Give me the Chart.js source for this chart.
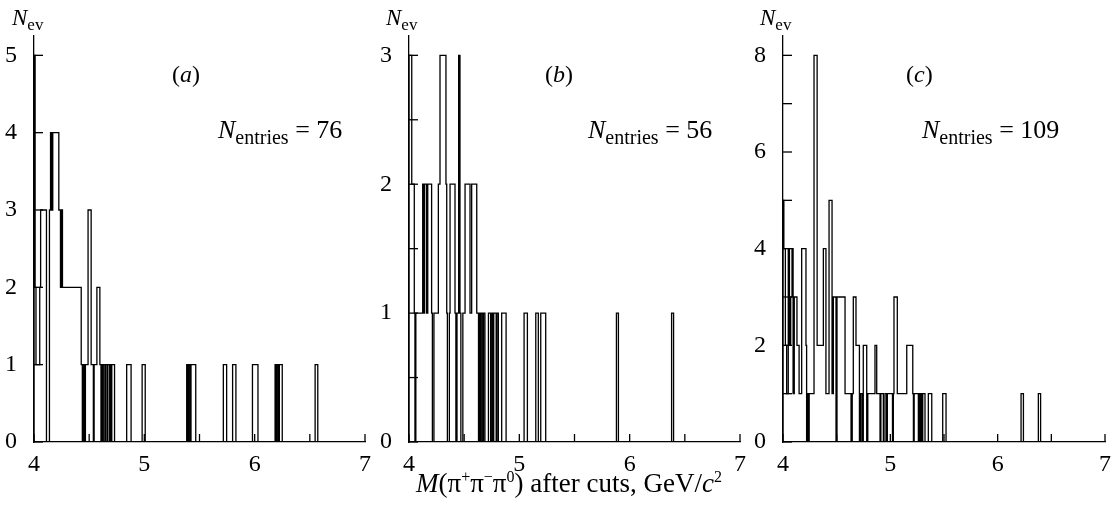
<html>
<head>
<meta charset="UTF-8">
<script src="https://cdn.jsdelivr.net/npm/chart.js"></script>
<style>
  body { margin: 0; width: 1115px; height: 511px; background: #fff; position: relative; overflow: hidden;
         font-family: 'Liberation Serif', 'Times New Roman', serif; color: #000; }
  canvas { position: absolute; left: 0; top: 0; }
  .t { position: absolute; line-height: 1; white-space: nowrap; font-size: 24px; }
  .t sub { font-size: 17px; vertical-align: -5px; line-height: 0; }
  .t sup { font-size: 16px; vertical-align: 10px; line-height: 0; }
  .ent { font-size: 26px; }
  .ent sub { font-size: 20px; vertical-align: -6px; }
</style>
</head>
<body>
<canvas id="pa" width="1115" height="511"></canvas>
<canvas id="pb" width="1115" height="511"></canvas>
<canvas id="pc" width="1115" height="511"></canvas>

<div class="t" style="left:12px; top:6px; font-size:23px"><i>N</i><sub>ev</sub></div>
<div class="t" style="left:386px; top:6px; font-size:23px"><i>N</i><sub>ev</sub></div>
<div class="t" style="left:760px; top:6px; font-size:23px"><i>N</i><sub>ev</sub></div>

<div class="t" style="left:172px; top:62px">(<i>a</i>)</div>
<div class="t" style="left:545px; top:62px">(<i>b</i>)</div>
<div class="t" style="left:906px; top:62px">(<i>c</i>)</div>

<div class="t ent" id="entA" style="left:218px; top:117px"></div>
<div class="t ent" id="entB" style="left:588px; top:117px"></div>
<div class="t ent" id="entC" style="left:922px; top:117px"></div>

<div class="t" style="left:416px; top:470px; font-size:27px"><i>M</i>(π<sup>+</sup>π<sup>−</sup>π<sup>0</sup>) after cuts, GeV/<i>c</i><sup>2</sup></div>

<script>
// step histograms: level n holds from mass[i] up to mass[i+1]
const massA = [4.000, 4.000, 4.010, 4.018, 4.052, 4.060, 4.113, 4.140, 4.150, 4.160, 4.170, 4.225, 4.240, 4.248, 4.258,
               4.428, 4.438, 4.446, 4.458, 4.466, 4.490, 4.518, 4.538, 4.545, 4.570, 4.597, 4.607, 4.613, 4.621, 4.628,
               4.642, 4.648, 4.662, 4.670, 4.686, 4.694, 4.702, 4.705, 4.730, 4.840, 4.880, 4.980, 5.008,
               5.384, 5.394, 5.400, 5.412, 5.423, 5.466, 5.716, 5.746, 5.800, 5.830, 5.980, 6.030,
               6.185, 6.196, 6.203, 6.215, 6.224, 6.250, 6.548, 6.572];
const countA = [0, 5, 2, 1, 2, 3, 0, 3, 4, 3, 4, 3, 2, 3, 2,
                1, 0, 1, 0, 1, 3, 1, 0, 1, 2, 1, 0, 1, 0, 1,
                0, 1, 0, 1, 0, 1, 0, 1, 0, 1, 0, 1, 0,
                1, 0, 1, 0, 1, 0, 1, 0, 1, 0, 1, 0,
                1, 0, 1, 0, 1, 0, 1, 0];

const massB = [4.000, 4.000, 4.025, 4.048, 4.054, 4.062, 4.124, 4.134, 4.140, 4.158, 4.170, 4.205, 4.212, 4.226,
               4.266, 4.281, 4.335, 4.342, 4.348, 4.366, 4.372, 4.417, 4.425, 4.435, 4.450, 4.462, 4.470, 4.488,
               4.508, 4.553, 4.568, 4.614, 4.630, 4.637, 4.648, 4.655, 4.668, 4.675, 4.688, 4.720, 4.740, 4.752,
               4.762, 4.768, 4.790, 4.797, 4.810, 4.840, 4.880, 5.043, 5.073, 5.149, 5.172, 5.194, 5.239,
               5.880, 5.898, 6.380, 6.398];
const countB = [0, 3, 2, 1, 0, 1, 2, 1, 2, 1, 2, 1, 0, 1,
                2, 3, 2, 1, 0, 1, 2, 1, 0, 1, 3, 1, 0, 1,
                2, 1, 2, 1, 0, 1, 0, 1, 0, 1, 0, 1, 0, 1,
                0, 1, 0, 1, 0, 1, 0, 1, 0, 1, 0, 1, 0,
                1, 0, 1, 0];

const massC = [4.000, 4.000, 4.008, 4.022, 4.034, 4.049, 4.060, 4.072, 4.084, 4.094, 4.105, 4.130, 4.150, 4.174,
               4.214, 4.220, 4.228, 4.236, 4.244, 4.289, 4.318, 4.376, 4.400, 4.429, 4.457, 4.469, 4.494, 4.503,
               4.578, 4.634, 4.645, 4.655, 4.680, 4.712, 4.722, 4.736, 4.748, 4.780, 4.790, 4.857, 4.873, 4.904,
               4.912, 4.935, 4.950, 4.965, 4.972, 5.020, 5.028, 5.034, 5.065, 5.153, 5.209, 5.215, 5.222, 5.261,
               5.268, 5.278, 5.285, 5.295, 5.302, 5.323, 5.354, 5.386, 5.488, 5.519, 6.218, 6.240, 6.379, 6.400];
const countC = [0, 5, 4, 2, 1, 4, 2, 3, 4, 1, 3, 2, 1, 4,
                2, 0, 1, 0, 1, 8, 2, 4, 1, 5, 1, 3, 0, 3,
                1, 0, 1, 3, 2, 0, 1, 0, 2, 0, 1, 2, 1, 0,
                1, 0, 1, 0, 1, 0, 1, 3, 1, 2, 1, 0, 1, 0,
                1, 0, 1, 0, 1, 0, 1, 0, 1, 0, 1, 0, 1, 0];

const xLabels = [4, 5, 6, 7];
const entries = [76, 56, 109];

Chart.defaults.font.family = "'Liberation Serif', 'Times New Roman', serif";
Chart.defaults.font.size = 24;
Chart.defaults.color = '#000';

document.getElementById('entA').innerHTML = '<i>N</i><sub>entries</sub> = ' + entries[0];
document.getElementById('entB').innerHTML = '<i>N</i><sub>entries</sub> = ' + entries[1];
document.getElementById('entC').innerHTML = '<i>N</i><sub>entries</sub> = ' + entries[2];

// tick marks drawn inward, as in the original plots
const innerTicks = {
  id: 'innerTicks',
  afterDraw(chart) {
    const { ctx, chartArea, scales } = chart;
    ctx.save();
    ctx.strokeStyle = '#000';
    ctx.lineWidth = 1.3;
    scales.x.ticks.forEach(t => {
      const px = scales.x.getPixelForValue(t.value);
      ctx.beginPath();
      ctx.moveTo(px, chartArea.bottom);
      ctx.lineTo(px, chartArea.bottom - 8);
      ctx.stroke();
    });
    scales.y.ticks.forEach(t => {
      const py = scales.y.getPixelForValue(t.value);
      ctx.beginPath();
      ctx.moveTo(chartArea.left, py);
      ctx.lineTo(chartArea.left + 9, py);
      ctx.stroke();
    });
    ctx.restore();
  }
};

function makePanel(id, xs, ns, yMax, yStep, labelEvery, padLeft, padRight) {
  const pts = xs.map((x, i) => ({ x: x, y: ns[i] }));
  return new Chart(document.getElementById(id), {
    type: 'line',
    data: {
      datasets: [{
        data: pts,
        stepped: true,
        borderColor: '#000',
        borderWidth: 1.3,
        pointRadius: 0,
        fill: false
      }]
    },
    options: {
      responsive: false,
      animation: false,
      devicePixelRatio: 1,
      layout: { padding: { left: padLeft, right: padRight, top: 36, bottom: 29 } },
      plugins: { legend: { display: false }, tooltip: { enabled: false } },
      scales: {
        x: {
          type: 'linear', min: 4, max: 7,
          grid: { display: false },
          border: { display: true, color: '#000', width: 1.3 },
          ticks: {
            stepSize: 0.5, autoSkip: false, maxRotation: 0, includeBounds: false, padding: 0,
            callback: v => xLabels.includes(v) ? String(v) : ''
          },
          afterFit: s => { s.height = 40; }
        },
        y: {
          min: 0, max: yMax,
          grid: { display: false },
          border: { display: true, color: '#000', width: 1.3 },
          ticks: {
            stepSize: yStep, autoSkip: false, includeBounds: false, padding: 9,
            callback: v => (Math.abs(v % labelEvery) < 1e-9) ? String(v) : ''
          },
          afterFit: s => { s.width = 34; }
        }
      }
    },
    plugins: [innerTicks]
  });
}

makePanel('pa', massA, countA, 5.25, 1, 1, 0, 750);
makePanel('pb', massB, countB, 3.15, 0.5, 1, 375, 375);
makePanel('pc', massC, countC, 8.4, 1, 2, 749, 10);
</script>
</body>
</html>
